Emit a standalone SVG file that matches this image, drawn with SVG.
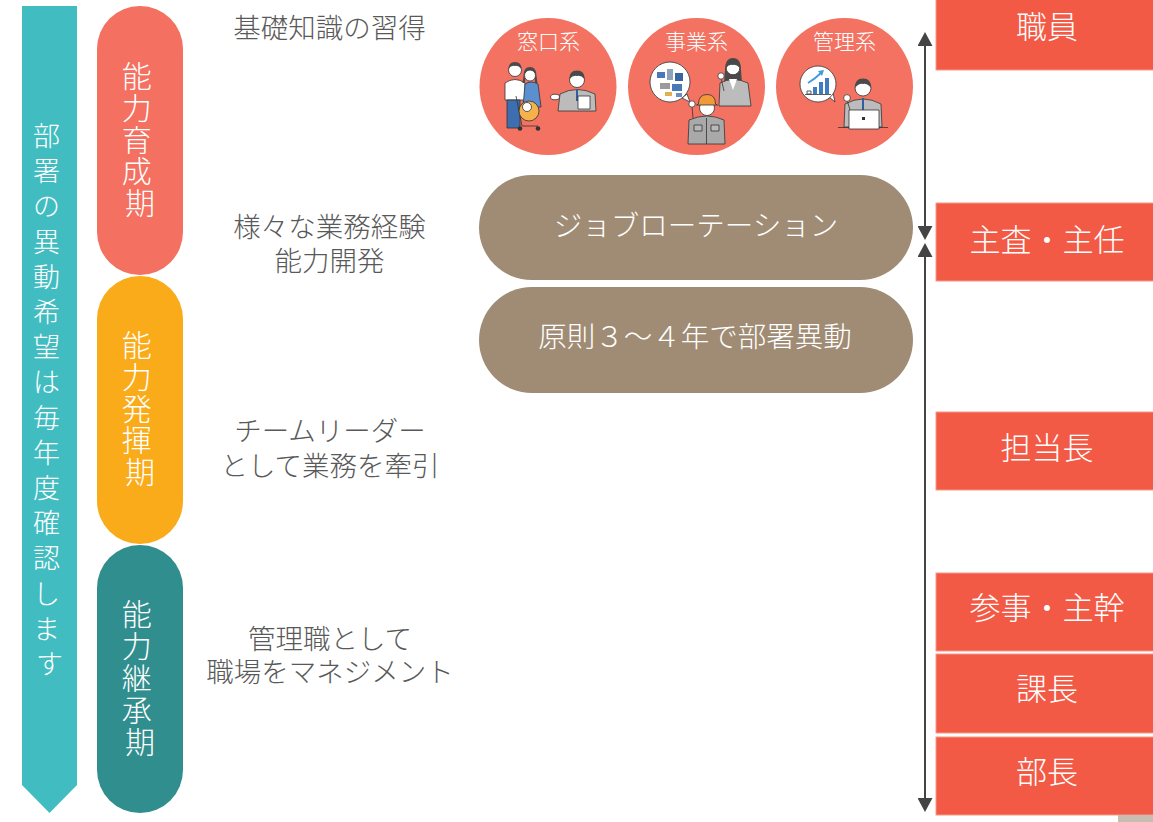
<svg xmlns="http://www.w3.org/2000/svg" width="1153" height="822" viewBox="0 0 1153 822">
  <style>
    text { font-family: "Noto Sans CJK JP", "Noto Sans", sans-serif; font-weight: 300; }
    .g { fill: #595959; font-size: 27.5px; text-anchor: middle; dominant-baseline: central; }
    .vert { font-size: 27px; text-anchor: middle; dominant-baseline: central; fill: #ffffff; }
    .phase { font-size: 30px; text-anchor: middle; dominant-baseline: central; fill: #ffffff; }
    .cat { font-size: 21px; text-anchor: middle; dominant-baseline: central; fill: #ffffff; }
    .pillt { font-size: 28.5px; text-anchor: middle; dominant-baseline: central; fill: #ffffff; }
    .rank { font-size: 31px; text-anchor: middle; dominant-baseline: central; fill: #ffffff; }
    .rankbox { fill: #F35A45; stroke: #F7988A; stroke-width: 1; }
    .circ { fill: #F47262; }
    .brown { fill: #A08C74; }
    .ol { stroke: #333333; stroke-width: 0.8; stroke-linejoin: round; }
    .skin { fill: #ffffff; }
    .hair { fill: #4a4a4a; }
    .suit { fill: #bcbcbc; }
    .conn { stroke: #444444; stroke-width: 2; fill: none; }
  </style>
  <defs>
    <marker id="arrowHead" markerUnits="userSpaceOnUse" markerWidth="15" markerHeight="15" refX="2" refY="7.5" orient="auto-start-reverse" viewBox="0 0 15 15">
      <path d="M0,0 L14,7.5 L0,15 z" fill="#444444"/>
    </marker>
  </defs>

  <rect width="1153" height="822" fill="#ffffff"/>

  <!-- annual transfer-request banner -->
  <g id="transfer-banner">
    <polygon points="22,6 77,6 77,785 49.5,813 22,785" fill="#41BDC1"/>
    <text class="vert">
      <tspan x="49.5" y="134">部</tspan>
      <tspan x="49.5" y="169.2">署</tspan>
      <tspan x="49.5" y="204.4">の</tspan>
      <tspan x="49.5" y="239.6">異</tspan>
      <tspan x="49.5" y="274.8">動</tspan>
      <tspan x="49.5" y="310">希</tspan>
      <tspan x="49.5" y="345.2">望</tspan>
      <tspan x="49.5" y="380.4">は</tspan>
      <tspan x="49.5" y="415.6">毎</tspan>
      <tspan x="49.5" y="450.8">年</tspan>
      <tspan x="49.5" y="486">度</tspan>
      <tspan x="49.5" y="521.2">確</tspan>
      <tspan x="49.5" y="556.4">認</tspan>
      <tspan x="49.5" y="591.6">し</tspan>
      <tspan x="49.5" y="626.8">ま</tspan>
      <tspan x="49.5" y="662">す</tspan>
    </text>
  </g>

  <!-- career phases -->
  <g id="phase-develop">
    <rect x="97" y="6" width="86" height="269" rx="43" fill="#F47060"/>
    <text class="phase">
      <tspan x="140" y="74">能</tspan>
      <tspan x="140" y="105.75">力</tspan>
      <tspan x="140" y="137.5">育</tspan>
      <tspan x="140" y="169.25">成</tspan>
      <tspan x="140" y="201">期</tspan>
    </text>
  </g>
  <g id="phase-perform">
    <rect x="97" y="276" width="86" height="268" rx="43" fill="#FAAB1A"/>
    <text class="phase">
      <tspan x="140" y="343">能</tspan>
      <tspan x="140" y="374.75">力</tspan>
      <tspan x="140" y="406.5">発</tspan>
      <tspan x="140" y="438.25">揮</tspan>
      <tspan x="140" y="470">期</tspan>
    </text>
  </g>
  <g id="phase-inherit">
    <rect x="97" y="545" width="86" height="268" rx="43" fill="#318E8E"/>
    <text class="phase">
      <tspan x="140" y="612">能</tspan>
      <tspan x="140" y="644">力</tspan>
      <tspan x="140" y="676">継</tspan>
      <tspan x="140" y="708">承</tspan>
      <tspan x="140" y="740">期</tspan>
    </text>
  </g>

  <!-- phase descriptions -->
  <g id="desc-basic">
    <text class="g" x="329.5" y="25.5">基礎知識の習得</text>
  </g>
  <g id="desc-experience">
    <text class="g" x="329.5" y="224.5">様々な業務経験</text>
    <text class="g" x="329.5" y="258.5">能力開発</text>
  </g>
  <g id="desc-leader">
    <text class="g" x="330" y="429">チームリーダー</text>
    <text class="g" x="330" y="463.5">として業務を牽引</text>
  </g>
  <g id="desc-manager">
    <text class="g" x="330" y="636.5">管理職として</text>
    <text class="g" x="330" y="670">職場をマネジメント</text>
  </g>

  <!-- job category circles -->
  <g id="cat-counter">
    <circle class="circ" cx="548" cy="86.5" r="68.5"/>
    <text class="cat" x="548.5" y="40">窓口系</text>
    <!-- father -->
    <path class="ol" d="M505,100 L505,83 Q515,76 525,83 L525,100 z" fill="#ffffff"/>
    <rect class="ol" x="507" y="100" width="13" height="28" fill="#3d6fb0"/>
    <circle class="ol skin" cx="515" cy="70" r="6.5"/>
    <path class="hair" d="M508.5,69 Q508.5,62 515,62 Q521.5,62 521.5,69 Q518,65 515,66 Q511,65 508.5,69 z"/>
    <!-- mother -->
    <path class="ol" d="M523,107 L525,84 Q531,80 538,84 L541,107 z" fill="#5b8fcf"/>
    <path class="hair" d="M523.5,76 Q523.5,67 530,67 Q536.5,67 536.5,76 L537.5,83 L535,83 Q535,72 530,72 Q525,72 525,83 L522.5,83 z"/>
    <circle class="ol skin" cx="530" cy="75.5" r="5.5"/>
    <!-- stroller -->
    <line class="ol" x1="516" y1="96" x2="522" y2="126" fill="none"/>
    <line class="ol" x1="522" y1="126" x2="538" y2="126" fill="none"/>
    <circle class="ol" cx="529" cy="111" r="10" fill="#F5B14A"/>
    <circle class="ol skin" cx="527" cy="107" r="4.5"/>
    <circle cx="520" cy="128.5" r="2.3" fill="#333333"/>
    <circle cx="538" cy="128.5" r="2.3" fill="#333333"/>
    <!-- staff member -->
    <path class="ol suit" d="M558,111 L560,94 Q577,85 595,94 L596,111 z"/>
    <line x1="577" y1="89" x2="577" y2="101" stroke="#2f5fa0" stroke-width="2"/>
    <rect class="ol" x="578" y="96" width="12" height="13" fill="#ffffff"/>
    <ellipse class="ol skin" cx="555" cy="97" rx="4.5" ry="2.8"/>
    <circle class="ol skin" cx="577" cy="80" r="7.5"/>
    <path class="hair" d="M569.5,79 Q569,70.5 577,70.5 Q585,70.5 584.5,79 Q581,75 577,76 Q573,75 569.5,79 z"/>
  </g>

  <g id="cat-project">
    <circle class="circ" cx="696.5" cy="86.5" r="68.5"/>
    <text class="cat" x="696.5" y="40">事業系</text>
    <!-- speech bubble with machinery -->
    <path class="ol" d="M682,98 L690,102 L687,94 z" fill="#ffffff"/>
    <circle class="ol" cx="670" cy="82" r="20" fill="#ffffff"/>
    <rect x="657" y="72" width="8" height="6" fill="#4a7ab5"/>
    <rect x="667" y="69" width="6" height="11" fill="#8fa3b8"/>
    <rect x="675" y="73" width="8" height="8" fill="#3a64a0"/>
    <rect x="660" y="83" width="10" height="6" fill="#9a9a9a"/>
    <rect x="672" y="84" width="10" height="7" fill="#4a7ab5"/>
    <rect x="665" y="92" width="7" height="4" fill="#e0b050"/>
    <rect x="676" y="93" width="6" height="4" fill="#6a8fbf"/>
    <!-- woman -->
    <path class="hair" d="M725,70 Q725,58 733,58 Q741,58 741,70 L742,83 L724,83 z"/>
    <path class="ol suit" d="M719,106 L720,83 Q733,76 748,83 L751,106 z"/>
    <path d="M729,79 L733,90 L737,79 z" fill="#ffffff"/>
    <line class="ol" x1="721" y1="78" x2="724" y2="91" fill="none"/>
    <circle class="ol skin" cx="721" cy="76" r="3.2"/>
    <circle class="ol skin" cx="733" cy="68" r="6.8"/>
    <path class="hair" d="M726,68 Q726.5,60.5 733,60.5 Q739.5,60.5 740,68 Q736,64 733,65 Q729,64 726,68 z"/>
    <!-- site worker -->
    <path class="ol" d="M688,144 L689,120 Q707,112 724,120 L725,144 z" fill="#a9a9a9"/>
    <line class="ol" x1="706.5" y1="118" x2="706.5" y2="144" fill="none"/>
    <rect class="ol" x="694" y="125" width="8" height="6" fill="#b8b8b8"/>
    <rect class="ol" x="711" y="125" width="8" height="6" fill="#b8b8b8"/>
    <line class="ol" x1="693" y1="118" x2="692" y2="106" fill="none"/>
    <circle class="ol skin" cx="692" cy="104" r="3.2"/>
    <circle class="ol skin" cx="707" cy="108" r="7.5"/>
    <path class="ol" d="M698.5,104 Q698.5,94.5 707,94.5 Q715.5,94.5 715.5,104 L717.5,105 L696.5,105 z" fill="#F29A3A"/>
  </g>

  <g id="cat-admin">
    <circle class="circ" cx="844.5" cy="86.5" r="68.5"/>
    <text class="cat" x="844.5" y="40">管理系</text>
    <!-- speech bubble with growth chart -->
    <path class="ol" d="M828,96 L835,102 L833,93 z" fill="#ffffff"/>
    <circle class="ol" cx="818" cy="84" r="18" fill="#ffffff"/>
    <rect class="ol" x="807" y="91" width="4" height="3" fill="#ffffff"/>
    <rect x="813" y="87" width="4" height="7" fill="#3f7cc0"/>
    <rect x="819" y="82" width="4" height="12" fill="#3f7cc0"/>
    <rect x="825" y="78" width="4" height="16" fill="#3f7cc0"/>
    <line x1="805" y1="94.5" x2="831" y2="94.5" stroke="#333333" stroke-width="0.8"/>
    <path d="M808,83 Q815,79 822,72" stroke="#3f9be0" stroke-width="1.8" fill="none"/>
    <path d="M818,71 L824,70 L822,76 z" fill="#3f9be0"/>
    <!-- office worker at laptop -->
    <path class="ol suit" d="M844,127 L845,104 Q863,94 881,104 L882,127 z"/>
    <line x1="863" y1="98" x2="863" y2="110" stroke="#2f5fa0" stroke-width="2"/>
    <line class="ol" x1="847" y1="100" x2="850" y2="110" fill="none"/>
    <circle class="ol skin" cx="847" cy="98" r="3.4"/>
    <circle class="ol skin" cx="863" cy="88" r="8"/>
    <path class="hair" d="M855,88 Q854.5,78.5 863,78.5 Q871.5,78.5 871,88 Q867,83 863,84 Q859,83 855,88 z"/>
    <line x1="838" y1="127.5" x2="888" y2="127.5" stroke="#333333" stroke-width="0.8"/>
    <rect class="ol" x="849" y="110" width="30" height="19" fill="#ffffff"/>
    <rect x="862" y="117" width="3" height="3" fill="#333333"/>
  </g>

  <!-- rotation policy -->
  <g id="job-rotation">
    <rect class="brown" x="479" y="175" width="434" height="105" rx="52.5"/>
    <text class="pillt" x="696" y="223">ジョブローテーション</text>
  </g>
  <g id="transfer-cycle">
    <rect class="brown" x="479" y="287" width="434" height="106" rx="53"/>
    <text class="pillt" x="695" y="334">原則３～４年で部署異動</text>
  </g>

  <!-- career span connectors -->
  <g id="connectors">
    <line class="conn" x1="925" y1="44" x2="925" y2="228" marker-start="url(#arrowHead)" marker-end="url(#arrowHead)"/>
    <line class="conn" x1="925" y1="255" x2="925" y2="800" marker-start="url(#arrowHead)" marker-end="url(#arrowHead)"/>
  </g>

  <!-- job ranks -->
  <g id="rank-staff">
    <rect class="rankbox" x="936" y="-16" width="222" height="86"/>
    <text class="rank" x="1047" y="24">職員</text>
  </g>
  <g id="rank-chief">
    <rect class="rankbox" x="936" y="203" width="222" height="78"/>
    <text class="rank" x="1047" y="237">主査・主任</text>
  </g>
  <g id="rank-lead">
    <rect class="rankbox" x="936" y="412" width="222" height="78"/>
    <text class="rank" x="1047" y="445">担当長</text>
  </g>
  <g id="rank-senior">
    <rect class="rankbox" x="936" y="573" width="222" height="78"/>
    <text class="rank" x="1047" y="605">参事・主幹</text>
  </g>
  <g id="rank-section">
    <rect class="rankbox" x="936" y="654" width="222" height="79"/>
    <text class="rank" x="1047" y="686">課長</text>
  </g>
  <g id="rank-dept">
    <rect class="rankbox" x="936" y="737" width="222" height="78"/>
    <text class="rank" x="1047" y="769">部長</text>
  </g>

  <rect x="1118" y="815" width="35" height="7" fill="#C9BDB1"/>
</svg>
